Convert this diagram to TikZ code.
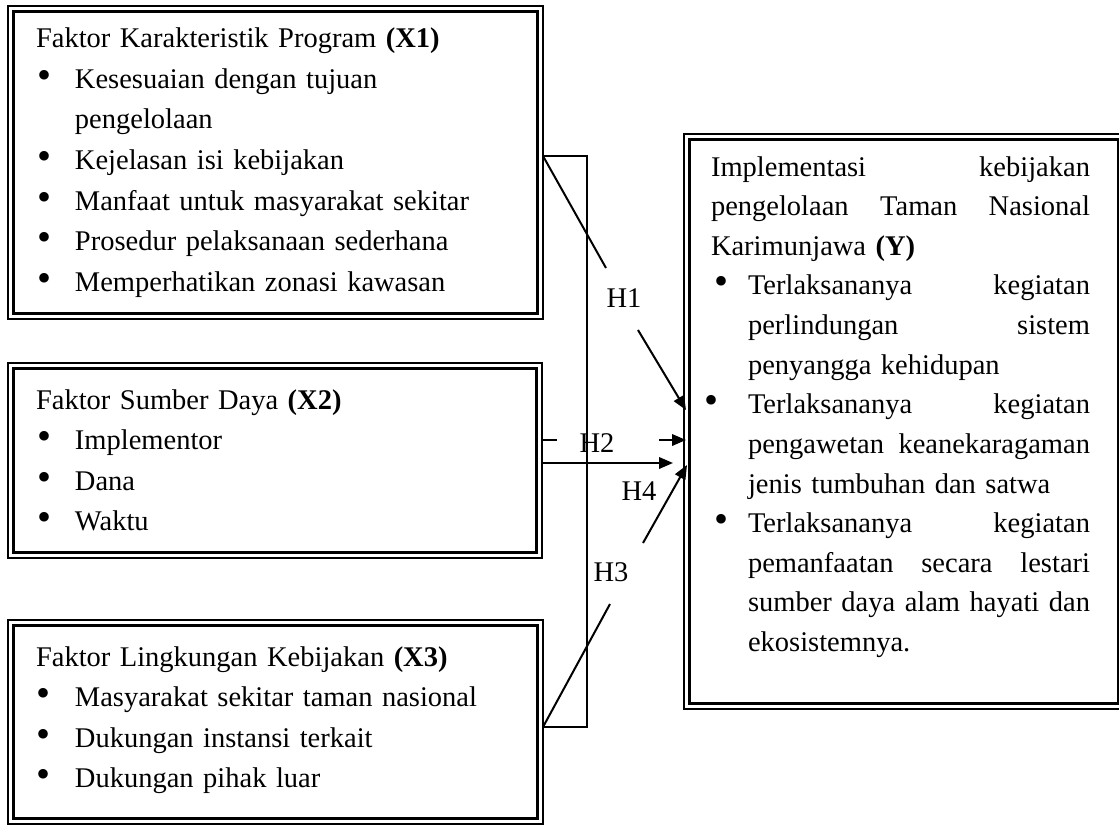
\documentclass[tikz,border=0pt]{standalone}
\usepackage{fontspec}
\setmainfont{Liberation Serif}
\usetikzlibrary{arrows.meta,calc}
\newdimen\pxu \pxu=0.4pt
\newcommand{\bigbul}{{\fontsize{16}{16}\selectfont\textbullet}}
\newcommand{\bitem}{\makebox[39\pxu][l]{\hspace*{1\pxu}\bigbul}}
\newcommand{\cont}{\hspace*{39\pxu}}
\newcommand{\yitem}{\makebox[37\pxu][l]{\hspace*{3\pxu}\bigbul}}
\newcommand{\yitemb}{\makebox[37\pxu][l]{\hspace*{-7\pxu}\bigbul}}
\newcommand{\ycont}{\hspace*{37\pxu}}
% a line set flush to both margins: its interword spaces take up the slack
\newcommand{\just}[2]{\leavevmode\hbox to #1\pxu{\spaceskip=0.25em plus 1fil\relax #2}}
\begin{document}
\begin{tikzpicture}[x=0.4pt,y=-0.4pt,
  every node/.style={inner sep=0pt, outer sep=0pt},
  outerbox/.style={draw, line width=0.8pt, anchor=north west},
  innerline/.style={line width=1pt},
  boxtext/.style={anchor=base west, text width=#1\pxu,
    font=\fontsize{11.4}{16.2}\selectfont},
  ytext/.style={anchor=base west, text width=380\pxu,
    font=\fontsize{11.4}{15.85}\selectfont},
  link/.style={line width=0.8pt},
  arr/.style={link, -{Triangle[length=5.6pt,width=4.6pt]}},
  hlabel/.style={font=\fontsize{11.4}{14}\selectfont}]
\useasboundingbox (0,0) rectangle (1119,826);

% outer frames of the four boxes
\node[outerbox, minimum width=535\pxu, minimum height=313\pxu] (x1) at (8,6) {};
\node[outerbox, minimum width=534\pxu, minimum height=195\pxu] (x2) at (8,363) {};
\node[outerbox, minimum width=535\pxu, minimum height=204\pxu] (x3) at (8,620) {};
\node[outerbox, minimum width=440\pxu, minimum height=575\pxu] (y) at (684,134) {};

% inner frames
\foreach \b in {x1,x2,x3,y}
  \draw[innerline] ($(\b.north west)+(5.5,5.5)$) rectangle ($(\b.south east)+(-5.5,-5.5)$);

% box contents
\node[boxtext=480] (x1t) at (36,48) {Faktor Karakteristik Program \textbf{(X1)}\\
\bitem Kesesuaian dengan tujuan\\
\cont pengelolaan\\
\bitem Kejelasan isi kebijakan\\
\bitem Manfaat untuk masyarakat sekitar\\
\bitem Prosedur pelaksanaan sederhana\\
\bitem Memperhatikan zonasi kawasan};

\node[boxtext=480] (x2t) at (36,409) {Faktor Sumber Daya \textbf{(X2)}\\
\bitem Implementor\\
\bitem Dana\\
\bitem Waktu};

\node[boxtext=480] (x3t) at (36,666) {Faktor Lingkungan Kebijakan \textbf{(X3)}\\
\bitem Masyarakat sekitar taman nasional\\
\bitem Dukungan instansi terkait\\
\bitem Dukungan pihak luar};

\node[ytext] (yt) at (711,176) {\just{379}{Implementasi kebijakan}\\
\just{379}{pengelolaan Taman Nasional}\\
Karimunjawa \textbf{(Y)}\\
\yitem\just{342}{Terlaksananya kegiatan}\\
\ycont\just{342}{perlindungan sistem}\\
\ycont penyangga kehidupan\\
\yitemb\just{342}{Terlaksananya kegiatan}\\
\ycont\just{342}{pengawetan keanekaragaman}\\
\ycont jenis tumbuhan dan satwa\\
\yitem\just{342}{Terlaksananya kegiatan}\\
\ycont\just{342}{pemanfaatan secara lestari}\\
\ycont\just{342}{sumber daya alam hayati dan}\\
\ycont ekosistemnya.};

% bracket joining the three factors
\coordinate (bt) at (587,156);
\coordinate (bb) at (587,727);
\draw[line width=0.6pt] (x1.east |- bt) -- (bt) -- (bb) -- (x3.east |- bb);

% hypothesis labels
\node[hlabel] (h1) at (624,298) {H1};
\node[hlabel] (h2) at (597,443) {H2};
\node[hlabel] (h4) at (639,491) {H4};
\node[hlabel] (h3) at (611,572) {H3};

% H1
\coordinate (h1a) at (606,268);
\coordinate (h1b) at (638,330);
\coordinate (h1e) at (686,410);
\draw[link] (x1.east |- bt) -- (h1a);
\draw[arr] (h1b) -- (h1e);

% H2
\coordinate (h2a) at (557,440);
\coordinate (h2b) at (659,440);
\coordinate (h2e) at (686,440);
\draw[link] (x2.east |- h2a) -- (h2a);
\draw[arr] (h2b) -- (h2e);

% H4
\coordinate (h4e) at (673,463);
\draw[arr] (x2.east |- h4e) -- (h4e);

% H3
\coordinate (h3a) at (610,604);
\coordinate (h3b) at (643,543);
\coordinate (h3e) at (687,465);
\draw[link] (x3.east |- bb) -- (h3a);
\draw[arr] (h3b) -- (h3e);
\end{tikzpicture}
\end{document}
